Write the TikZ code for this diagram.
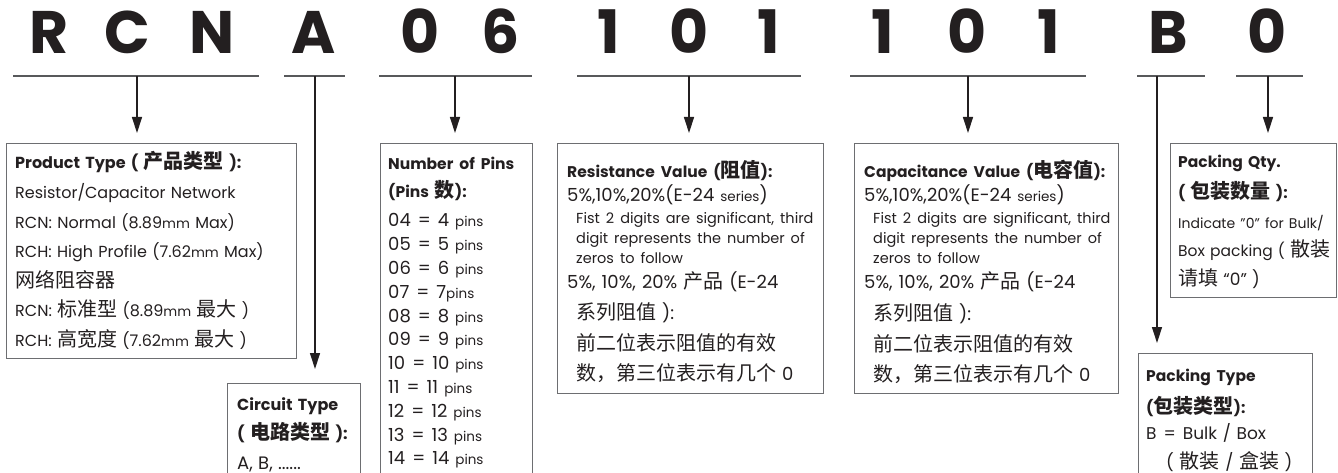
\documentclass[tikz,border=0pt]{standalone}
\usepackage{fontspec}
\setmainfont{Poppins}
\newfontfamily\cjk{Noto Sans CJK SC}
\usetikzlibrary{arrows.meta}
\definecolor{ink}{HTML}{231F20}
\definecolor{rulegray}{HTML}{58595B}
\definecolor{framegray}{HTML}{6D6E71}
\newcommand\zh[1]{{\cjk\fontsize{20}{20}\selectfont #1}}
\newcommand\sm[1]{{\fontsize{13.5}{13.5}\selectfont #1}}
\newcommand\eq{\hspace{7pt}=\hspace{7pt}}
\tikzset{
  digit/.style={font=\fontsize{60}{60}\selectfont\bfseries,text=ink,inner sep=0pt,anchor=base},
  uline/.style={rulegray,line width=2.2pt},
  conn/.style={ink,line width=1.3pt,shorten >=10pt,-{Triangle[length=16pt,width=10pt]}},
  infobox/.style={draw=framegray,line width=1.1pt,inner sep=0pt,anchor=north west},
  infotext/.style={anchor=base west,align=left,text width=320pt,inner sep=0pt,text=ink},
}
\begin{document}
\begin{tikzpicture}[x=1pt,y=-1pt]
  \clip (0,0) rectangle (1338,473);
  % part number
  \node[digit] (r) at (49,54) {R};
  \node[digit] (c) at (127,54) {C};
  \node[digit] (n) at (212,54) {N};
  \node[digit] (a) at (314,54) {A};
  \node[digit] (p0) at (420,54) {0};
  \node[digit] (p6) at (501,54) {6};
  \node[digit] (r1) at (609,54) {1};
  \node[digit] (r0) at (689,54) {0};
  \node[digit] (r2) at (769,54) {1};
  \node[digit] (c1) at (883,54) {1};
  \node[digit] (c0) at (967,54) {0};
  \node[digit] (c2) at (1049,54) {1};
  \node[digit] (b) at (1168,54) {B};
  \node[digit] (q0) at (1267,54) {0};
  % underlines
  \draw[uline] (13,76) -- (259,76);
  \draw[uline] (284,76) -- (345,76);
  \draw[uline] (379,76) -- (532,76);
  \draw[uline] (577,76) -- (801,76);
  \draw[uline] (850,76) -- (1086,76);
  \draw[uline] (1137,76) -- (1205,76);
  \draw[uline] (1236,76) -- (1303,76);
  \coordinate (prodtop) at (137,76);
  \coordinate (circtop) at (315,76);
  \coordinate (pinstop) at (455,76);
  \coordinate (restop) at (689,76);
  \coordinate (captop) at (968,76);
  \coordinate (typetop) at (1157,76);
  \coordinate (qtytop) at (1268,76);
  % boxes
  \node[infobox,minimum width=290pt,minimum height=215pt] (prod) at (6,143) {};
  \node[infobox,minimum width=133pt,minimum height=110pt] (circ) at (227,383) {};
  \node[infobox,minimum width=152pt,minimum height=340pt] (pins) at (380,143) {};
  \node[infobox,minimum width=266pt,minimum height=250pt] (res) at (557,143) {};
  \node[infobox,minimum width=264pt,minimum height=250pt] (cap) at (854,143) {};
  \node[infobox,minimum width=166pt,minimum height=154pt] (qty) at (1170,143) {};
  \node[infobox,minimum width=174pt,minimum height=130pt] (type) at (1138,353) {};
  % texts
  \node[infotext,font=\fontsize{16}{29.6}\selectfont] (prodtxt) at (15,169) {%
    \textbf{Product Type ( \zh{产品类型} ):}\\
    Resistor/Capacitor Network\\
    RCN: Normal (8.89\sm{mm} Max)\\
    RCH: High Profile (7.62\sm{mm} Max)\\
    \zh{网络阻容器}\\
    RCN: \zh{标准型} (8.89\sm{mm} \zh{最大} )\\
    RCH: \zh{高宽度} (7.62\sm{mm} \zh{最大} )};
  \node[infotext,font=\fontsize{16}{29.5}\selectfont] (circtxt) at (237,410) {%
    \textbf{Circuit Type}\\
    \textbf{( \zh{电路类型} ):}\\
    {\fontsize{18}{18}\selectfont A, B, ......}};
  \node[infotext,font=\fontsize{18}{23.8}\selectfont] (pinstxt) at (388,170) {%
    {\fontsize{15.5}{15.5}\selectfont\textbf{Number of Pins}}\\[4.2pt]
    {\fontsize{15.5}{15.5}\selectfont\textbf{(Pins \zh{数}):}}\\[5.2pt]
    04\eq 4 \sm{pins}\\
    05\eq 5 \sm{pins}\\
    06\eq 6 \sm{pins}\\
    07\eq 7\sm{pins}\\
    08\eq 8 \sm{pins}\\
    09\eq 9 \sm{pins}\\
    10\eq 10 \sm{pins}\\
    11\eq 11 \sm{pins}\\
    12\eq 12 \sm{pins}\\
    13\eq 13 \sm{pins}\\
    14\eq 14 \sm{pins}};
  \node[infotext,font=\fontsize{18}{20}\selectfont] (restxt) at (567,178) {%
    {\fontsize{15.5}{15.5}\selectfont\textbf{Resistance Value (\zh{阻值}):}}\\[2pt]
    5\%,10\%,20\%(E-24 \sm{series})\\[2pt]
    \hspace*{9pt}{\fontsize{14.5}{14.5}\selectfont Fist 2 digits are significant, third}\\
    \hspace*{9pt}{\fontsize{14.5}{14.5}\selectfont digit represents the number of}\\
    \hspace*{9pt}{\fontsize{14.5}{14.5}\selectfont zeros to follow}\\[5pt]
    5\%, 10\%, 20\% \zh{产品} (E-24\\[10pt]
    \hspace*{9pt}\zh{系列阻值} ):\\[10pt]
    \hspace*{9pt}\zh{前二位表示阻值的有效}\\[10pt]
    \hspace*{9pt}\zh{数，第三位表示有几个} 0};
  \node[infotext,font=\fontsize{18}{20}\selectfont] (captxt) at (864,178) {%
    {\fontsize{15.5}{15.5}\selectfont\textbf{Capacitance Value (\zh{电容值}):}}\\[2pt]
    5\%,10\%,20\%(E-24 \sm{series})\\[2pt]
    \hspace*{9pt}{\fontsize{14.5}{14.5}\selectfont Fist 2 digits are significant, third}\\
    \hspace*{9pt}{\fontsize{14.5}{14.5}\selectfont digit represents the number of}\\
    \hspace*{9pt}{\fontsize{14.5}{14.5}\selectfont zeros to follow}\\[5pt]
    5\%, 10\%, 20\% \zh{产品} (E-24\\[10pt]
    \hspace*{9pt}\zh{系列阻值} ):\\[10pt]
    \hspace*{9pt}\zh{前二位表示阻值的有效}\\[10pt]
    \hspace*{9pt}\zh{数，第三位表示有几个} 0};
  \node[infotext,font=\fontsize{15.5}{29}\selectfont] (qtytxt) at (1178,168) {%
    \textbf{Packing Qty.}\\[2pt]
    \textbf{( \zh{包装数量} ):}\\
    {\fontsize{14}{14}\selectfont Indicate "0" for Bulk/}\\
    Box packing ( \zh{散装}\\
    \zh{请填} {\fontsize{17}{17}\selectfont “0” )}};
  \node[infotext,font=\fontsize{17}{29}\selectfont] (typetxt) at (1146,381) {%
    {\fontsize{15.5}{15.5}\selectfont\textbf{Packing Type}}\\[3pt]
    {\fontsize{15.5}{15.5}\selectfont\textbf{(\zh{包装类型}):}}\\[-3pt]
    B\eq Bulk / Box\\
    \hspace*{20pt}( \zh{散装} / \zh{盒装} )};
  % connectors
  \draw[conn] (prodtop) -- (prodtop |- prod.north);
  \draw[conn,shorten >=14pt] (circtop) -- (circtop |- circ.north);
  \draw[conn] (pinstop) -- (pinstop |- pins.north);
  \draw[conn] (restop) -- (restop |- res.north);
  \draw[conn] (captop) -- (captop |- cap.north);
  \draw[conn] (typetop) -- (typetop |- type.north);
  \draw[conn] (qtytop) -- (qtytop |- qty.north);
\end{tikzpicture}
\end{document}
